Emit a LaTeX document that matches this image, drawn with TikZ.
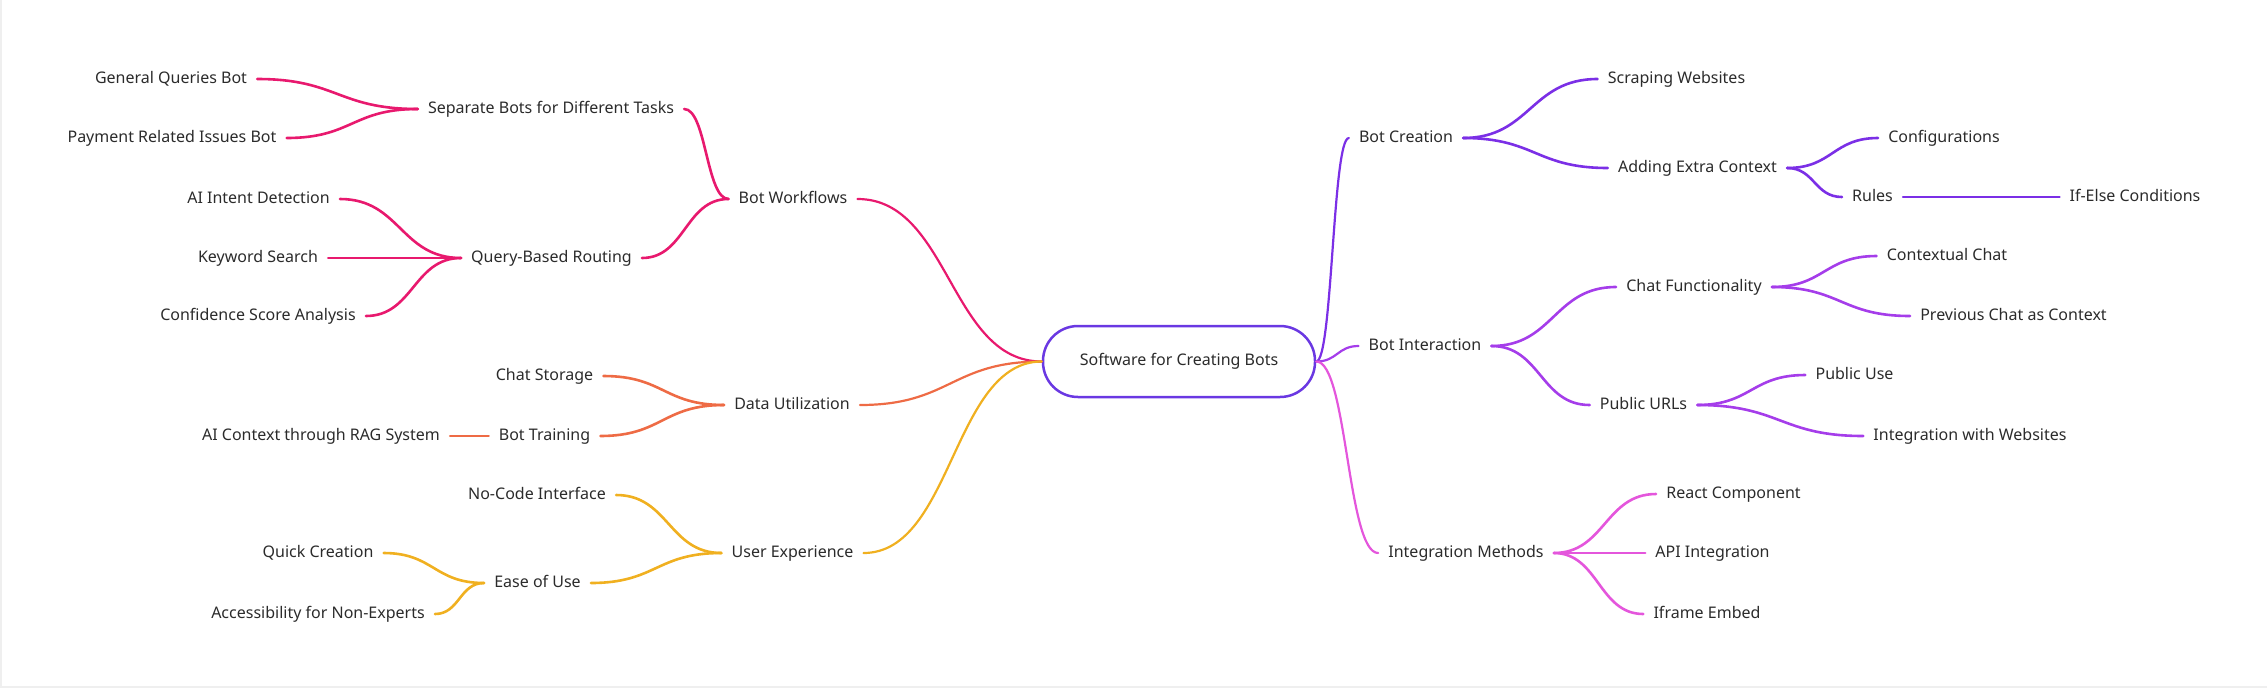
\documentclass[tikz,border=0pt]{standalone}
\usepackage{fontspec}
\setmainfont{Noto Sans}
\usetikzlibrary{calc}
\definecolor{txtcol}{HTML}{2B2B2B}
\definecolor{rootcol}{HTML}{6A38E2}
\definecolor{wfcol}{HTML}{E8196E}
\definecolor{ducol}{HTML}{EE6B45}
\definecolor{uxcol}{HTML}{F0B020}
\definecolor{bccol}{HTML}{7B2FE6}
\definecolor{bicol}{HTML}{A53DEA}
\definecolor{imcol}{HTML}{E456DC}
\definecolor{edgecol}{HTML}{EFEFEF}

\begin{document}
\begin{tikzpicture}[x=1pt, y=-1pt,
  lbl/.style={text=txtcol, font=\fontsize{16}{18}\selectfont, inner xsep=10pt, inner ysep=0pt, text height=11.5pt, text depth=3.5pt},
  rootbox/.style={draw=rootcol, line width=2.5pt, rounded corners=35pt, minimum width=272pt, minimum height=71pt, text=txtcol, font=\fontsize{16}{18}\selectfont},
  sline/.style={to path={let \p1=(\tikztostart), \p2=(\tikztotarget) in .. controls ({0.5*\x1+0.5*\x2},\y1) and ({0.5*\x1+0.5*\x2},\y2) .. (\tikztotarget)}},
  top/.style={line width=2.2pt, line cap=round},
  sub/.style={line width=2.6pt, line cap=round}]
\useasboundingbox (0,-2) rectangle (2267,687);
\draw[edgecol, line width=2pt] (1,-2) -- (1,685) -- (2267,685);

\node[rootbox] (root) at (1179,359.5) {Software for Creating Bots};

\node[lbl] (bw) at (793,197) {Bot Workflows};
\node[lbl] (du) at (792,403) {Data Utilization};
\node[lbl] (ux) at (792.5,551) {User Experience};
\node[lbl] (sep) at (551,107) {Separate Bots for Different Tasks};
\node[lbl] (qr) at (551.5,256) {Query-Based Routing};
\node[lbl] (cs) at (544.5,374) {Chat Storage};
\node[lbl] (bt) at (544.5,434) {Bot Training};
\node[lbl] (nc) at (537,493) {No-Code Interface};
\node[lbl] (eu) at (537.5,581) {Ease of Use};
\node[lbl] (gq) at (171,77) {General Queries Bot};
\node[lbl] (pr) at (172,136) {Payment Related Issues Bot};
\node[lbl] (ai) at (258.5,197) {AI Intent Detection};
\node[lbl] (ks) at (258,256) {Keyword Search};
\node[lbl] (csa) at (258,314) {Confidence Score Analysis};
\node[lbl] (rag) at (321,434) {AI Context through RAG System};
\node[lbl] (qc) at (318,551) {Quick Creation};
\node[lbl] (acc) at (318,612) {Accessibility for Non-Experts};

\node[lbl] (bc) at (1406,136) {Bot Creation};
\node[lbl] (bi) at (1425,344) {Bot Interaction};
\node[lbl] (im) at (1466,551) {Integration Methods};
\node[lbl] (sw) at (1676.5,77) {Scraping Websites};
\node[lbl] (aec) at (1697.5,166) {Adding Extra Context};
\node[lbl] (cf) at (1694,285) {Chat Functionality};
\node[lbl] (pu) at (1643.5,403) {Public URLs};
\node[lbl] (rc) at (1733.5,492) {React Component};
\node[lbl] (api) at (1712.5,551) {API Integration};
\node[lbl] (ife) at (1707,612) {Iframe Embed};
\node[lbl] (cfg) at (1944,136) {Configurations};
\node[lbl] (rul) at (1872.5,195) {Rules};
\node[lbl] (cc) at (1947,254) {Contextual Chat};
\node[lbl] (pcc) at (2013.5,314) {Previous Chat as Context};
\node[lbl] (puse) at (1854.5,373) {Public Use};
\node[lbl] (iws) at (1970,434) {Integration with Websites};
\node[lbl] (iec) at (2135,195) {If-Else Conditions};

\draw[top, wfcol] (root.west) to[sline] (bw.east);
\draw[top, ducol] (root.west) to[sline] (du.east);
\draw[top, uxcol] (root.west) to[sline] (ux.east);
\draw[top, bccol] (root.east) to[sline] (bc.west);
\draw[top, bicol] (root.east) to[sline] (bi.west);
\draw[top, imcol] (root.east) to[sline] (im.west);

\draw[sub, wfcol] (bw.west) to[sline] (sep.east);
\draw[sub, wfcol] (bw.west) to[sline] (qr.east);
\draw[sub, wfcol] (sep.west) to[sline] (gq.east);
\draw[sub, wfcol] (sep.west) to[sline] (pr.east);
\draw[sub, wfcol] (qr.west) to[sline] (ai.east);
\draw[sub, wfcol] (qr.west) to[sline] (ks.east);
\draw[sub, wfcol] (qr.west) to[sline] (csa.east);

\draw[sub, ducol] (du.west) to[sline] (cs.east);
\draw[sub, ducol] (du.west) to[sline] (bt.east);
\draw[sub, ducol] (bt.west) to[sline] (rag.east);

\draw[sub, uxcol] (ux.west) to[sline] (nc.east);
\draw[sub, uxcol] (ux.west) to[sline] (eu.east);
\draw[sub, uxcol] (eu.west) to[sline] (qc.east);
\draw[sub, uxcol] (eu.west) to[sline] (acc.east);

\draw[sub, bccol] (bc.east) to[sline] (sw.west);
\draw[sub, bccol] (bc.east) to[sline] (aec.west);
\draw[sub, bccol] (aec.east) to[sline] (cfg.west);
\draw[sub, bccol] (aec.east) to[sline] (rul.west);
\draw[sub, bccol] (rul.east) to[sline] (iec.west);

\draw[sub, bicol] (bi.east) to[sline] (cf.west);
\draw[sub, bicol] (bi.east) to[sline] (pu.west);
\draw[sub, bicol] (cf.east) to[sline] (cc.west);
\draw[sub, bicol] (cf.east) to[sline] (pcc.west);
\draw[sub, bicol] (pu.east) to[sline] (puse.west);
\draw[sub, bicol] (pu.east) to[sline] (iws.west);

\draw[sub, imcol] (im.east) to[sline] (rc.west);
\draw[sub, imcol] (im.east) to[sline] (api.west);
\draw[sub, imcol] (im.east) to[sline] (ife.west);
\end{tikzpicture}
\end{document}
